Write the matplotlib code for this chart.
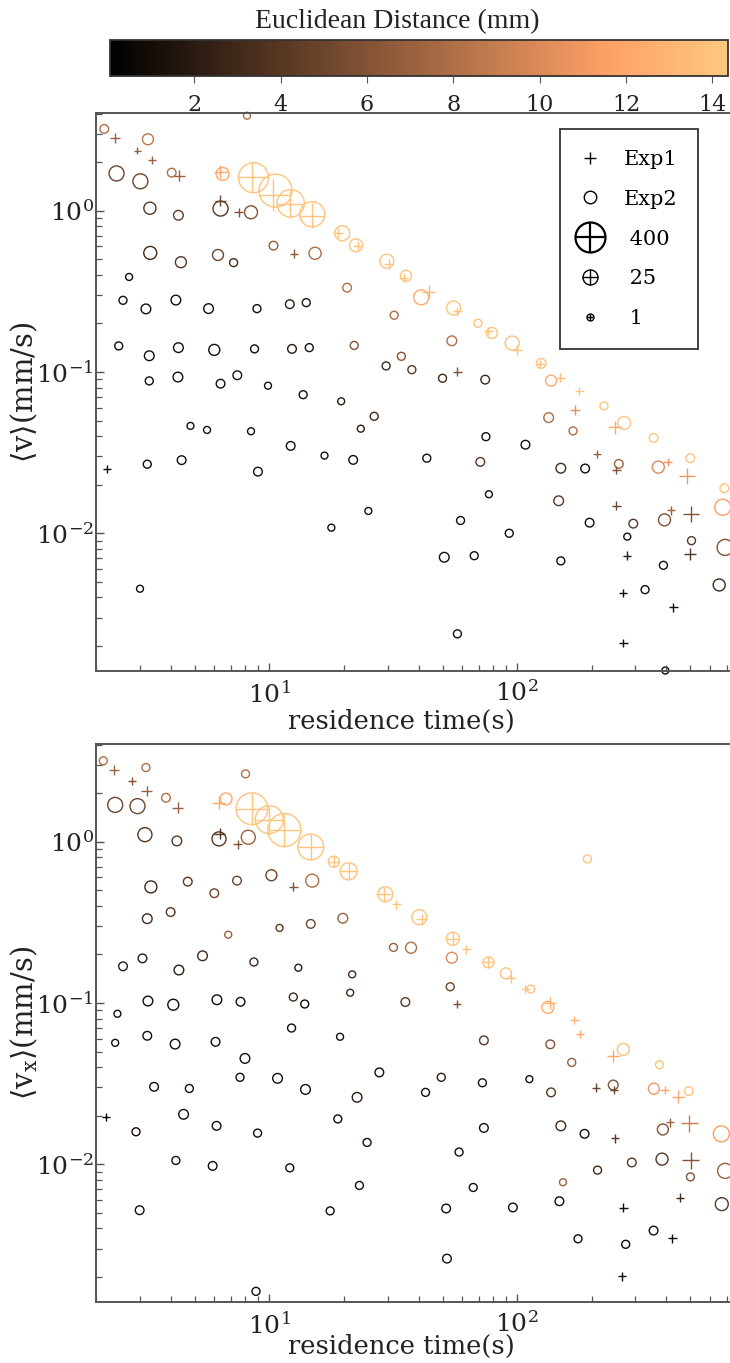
import numpy as np
import matplotlib
matplotlib.use("Agg")
import matplotlib.pyplot as plt
from matplotlib.lines import Line2D
from matplotlib.colors import Normalize
from matplotlib.cm import ScalarMappable

plt.rcParams['font.family'] = ['DejaVu Serif', 'DejaVu Sans']
plt.rcParams['mathtext.fontset'] = 'custom'
plt.rcParams['mathtext.rm'] = 'DejaVu Serif'
plt.rcParams['mathtext.it'] = 'DejaVu Serif:italic'
plt.rcParams['mathtext.default'] = 'regular'

# ---------------- data : top panel <v> ----------------
# Exp2 (circles): residence time (s), speed (mm/s), distance (mm), count
top_exp2_t = [2.16, 3.24, 2.42, 3.02, 4.04, 6.48, 8.64, 10.6, 12.2, 14.9, 19.7, 22.4, 8.13,
              3.30, 4.30, 6.36, 8.44, 10.4, 15.3, 3.31, 4.40, 6.21, 7.18, 20.6, 2.72, 2.57,
              3.18, 4.20, 5.69, 8.92, 12.1, 14.1, 22.0, 2.47, 3.28, 4.30, 6.00, 8.72, 12.35,
              14.5, 3.28, 4.28, 6.36, 7.43, 9.88, 13.7, 19.5, 4.81, 5.61, 8.44, 12.2, 16.7,
              21.8, 23.4, 3.22, 4.43, 9.0, 25.1, 17.8, 3.01, 29.8, 35.6, 41.0, 31.9, 55.4,
              69.5, 79.1, 95.5, 54.5, 34.1, 29.6, 37.6, 50.0, 74.3, 125, 137, 224, 134, 168,
              270, 355, 26.5, 74.8, 108, 71.0, 257, 371, 499, 685, 675, 150, 188, 76.9, 147,
              393, 196, 294, 92.9, 278, 505, 690, 43.2, 59.1, 50.8, 67.1, 150, 389, 653, 328,
              57.4, 396]
top_exp2_v = [3.21, 2.77, 1.70, 1.52, 1.72, 1.69, 1.60, 1.33, 1.11, 0.95, 0.724, 0.61, 3.88,
              1.035, 0.936, 1.03, 0.977, 0.607, 0.544, 0.547, 0.479, 0.531, 0.476, 0.333, 0.388,
              0.278, 0.246, 0.279, 0.247, 0.247, 0.263, 0.269, 0.146, 0.145, 0.126, 0.1415,
              0.137, 0.139, 0.139, 0.1415, 0.088, 0.093, 0.0846, 0.0954, 0.0822, 0.0723, 0.0658,
              0.0463, 0.0437, 0.0429, 0.0348, 0.0303, 0.0285, 0.0445, 0.0268, 0.0284, 0.0241,
              0.01375, 0.01083, 0.00453, 0.486, 0.395, 0.290, 0.2246, 0.249, 0.2004, 0.1745,
              0.151, 0.156, 0.125, 0.109, 0.1033, 0.0914, 0.0896, 0.113, 0.0883, 0.0616, 0.0521,
              0.0431, 0.0483, 0.039, 0.0531, 0.0397, 0.0354, 0.0277, 0.0269, 0.0257, 0.0292,
              0.019, 0.0145, 0.0253, 0.0252, 0.01746, 0.0159, 0.0121, 0.01163, 0.01147, 0.0100,
              0.00953, 0.009, 0.00817, 0.0292, 0.012, 0.0071, 0.00726, 0.00674, 0.00633,
              0.00478, 0.00447, 0.00238, 0.00141]
top_exp2_d = [8, 8.5, 5, 5, 8, 12, 14, 14, 14, 14, 14, 14, 8, 4, 4.5, 4, 6, 7, 8, 3, 4, 5, 3,
              8, 1, 1, 1, 1, 1, 1, 2, 1.5, 6, 1, 1, 1, 1, 1, 2, 1, 1, 1, 1, 1.5, 1, 1, 2, 1, 1,
              1, 1, 1, 1, 2, 1, 1, 1, 1, 1, 1, 14, 14, 12.5, 8, 14, 14, 14, 14, 8, 6, 3, 4, 3,
              3, 14, 12.5, 14, 8, 8, 14, 14, 3, 1, 1, 4, 7, 10, 14, 14, 11.5, 3, 1, 1, 4, 6, 1,
              4, 1, 1, 4, 6, 1, 1, 1, 1, 1, 1, 3, 1, 1, 1]
top_exp2_n = [2, 5, 25, 25, 2, 11, 400, 700, 250, 160, 25, 11, 1, 8, 3, 25, 11, 2, 8, 11, 5,
              5, 1.5, 2, 1, 1.5, 3, 3, 3, 1.5, 2, 1.5, 1.5, 1.5, 3, 3, 5, 1.5, 2, 1.5, 1.5, 3,
              2, 2, 1, 1.5, 1, 1, 1, 1, 2, 1, 2, 1, 1.5, 2, 2, 1, 1, 1, 17, 5, 25, 1.5, 17,
              1.5, 5, 17, 3, 1.5, 1.5, 1.5, 1.5, 2, 3, 5, 1.5, 3, 1.5, 11, 2, 1.5, 1.5, 2, 2,
              2, 7.5, 2, 2, 30, 3, 2, 1, 3, 7.5, 2, 2, 1.5, 1, 1.5, 30, 1.5, 1.5, 3, 1.5, 1.5,
              1.5, 7.5, 1.5, 1.5, 1]

# Exp1 (plus markers)
top_exp1_t = [2.38, 2.94, 3.37, 4.34, 6.35, 8.51, 10.4, 12.1, 14.9, 18.9, 22.7, 6.33, 7.52,
              12.6, 30.3, 34.9, 43.9, 57.4, 76.6, 100, 57.4, 124, 149.5, 178, 171, 247, 210,
              251, 405, 483, 251, 418, 502, 499, 277, 267, 427, 268, 2.22]
top_exp1_v = [2.81, 2.355, 2.05, 1.65, 1.745, 1.61, 1.25, 1.10, 0.927, 0.724, 0.607, 1.15,
              0.977, 0.541, 0.467, 0.384, 0.315, 0.238, 0.1796, 0.137, 0.1004, 0.112, 0.0922,
              0.0762, 0.0581, 0.0454, 0.031, 0.0247, 0.0277, 0.0228, 0.01483, 0.0139, 0.01323,
              0.00741, 0.00726, 0.00427, 0.00348, 0.00209, 0.0249]
top_exp1_d = [7, 7, 7, 7, 12, 14, 14, 14, 14, 14, 14, 5, 6, 6.5, 14, 14, 13.5, 14, 14, 14, 6,
              14, 13.5, 14, 10.5, 12, 7, 6, 11, 11, 5, 7, 6, 4, 2, 1, 1, 1, 0.5]
top_exp1_n = [3, 1, 1.5, 5, 11, 400, 500, 250, 160, 3, 3, 5, 2, 2, 3, 2, 11, 2, 2, 3, 2, 2, 3,
              2, 3, 11, 2, 2, 2, 30, 2, 2, 30, 7.5, 2, 2, 2, 2, 1.5]

# ---------------- data : bottom panel <v_x> ----------------
bot_exp2_t = [2.14, 3.18, 2.39, 2.94, 3.83, 6.69, 8.02, 8.51, 10.0, 11.5, 14.7, 18.2, 20.9,
              3.15, 4.24, 6.27, 8.23, 10.2, 14.9, 3.33, 4.69, 6.00, 7.41, 3.22, 4.00, 6.83,
              11.0, 14.7, 19.8, 2.57, 3.08, 4.32, 5.38, 8.67, 13.1, 21.6, 2.44, 3.24, 4.10,
              6.15, 7.66, 12.5, 13.9, 21.2, 2.39, 3.22, 4.17, 6.07, 12.3, 19.3, 7.98, 3.43,
              4.76, 7.62, 10.8, 14.0, 22.6, 2.90, 4.51, 6.13, 8.97, 18.9, 24.8, 4.20, 5.91,
              12.1, 23.1, 3.00, 17.6, 8.84, 29.4, 40.3, 55.0, 31.7, 37.3, 54.5, 76.6, 90.0,
              113.5, 133, 192, 268, 53.7, 35.4, 73.4, 136, 375, 166, 72.4, 112, 137, 244, 356,
              492, 73.4, 150, 187, 387, 666, 290, 384, 211, 500, 690, 27.8, 42.7, 49.4, 58.3,
              66.5, 51.7, 96.1, 153, 148, 669, 176, 274, 355, 52.1]
bot_exp2_v = [3.17, 2.88, 1.69, 1.66, 1.87, 1.84, 2.63, 1.60, 1.37, 1.18, 0.927, 0.751, 0.655,
              1.105, 1.01, 1.04, 1.065, 0.619, 0.573, 0.524, 0.565, 0.479, 0.573, 0.333, 0.366,
              0.265, 0.292, 0.309, 0.335, 0.1687, 0.189, 0.160, 0.196, 0.1794, 0.1653, 0.1504,
              0.0857, 0.1028, 0.0975, 0.1047, 0.1017, 0.1088, 0.0985, 0.1157, 0.0566, 0.0626,
              0.0556, 0.0574, 0.0699, 0.0617, 0.0453, 0.0302, 0.0295, 0.0346, 0.0341, 0.0291,
              0.026, 0.0159, 0.0204, 0.0173, 0.0156, 0.0191, 0.01365, 0.01056, 0.00977, 0.0095,
              0.00739, 0.00519, 0.00514, 0.00163, 0.472, 0.340, 0.250, 0.221, 0.220, 0.1907,
              0.1786, 0.1527, 0.122, 0.0939, 0.781, 0.0515, 0.126, 0.1013, 0.0586, 0.0554,
              0.0414, 0.0428, 0.032, 0.0337, 0.0279, 0.031, 0.0294, 0.0284, 0.0168, 0.0173,
              0.01544, 0.01643, 0.01544, 0.01026, 0.01076, 0.0092, 0.00835, 0.0091, 0.0371,
              0.0279, 0.0346, 0.0119, 0.00718, 0.00532, 0.0054, 0.00774, 0.0059, 0.00566,
              0.00345, 0.00319, 0.00388, 0.0026]
bot_exp2_d = [8, 8, 5, 5, 8, 12, 8, 14, 14, 14, 14, 14, 14, 4, 4, 4, 7, 5, 8, 3, 4, 5, 5, 3, 4,
              7, 4, 5, 7, 2, 2, 2, 3, 3, 2, 3, 1, 1, 1, 1, 1, 3, 1, 3, 1, 1, 1, 1, 1, 1, 1, 1, 1,
              1, 1, 1, 2, 1, 1, 1, 1, 1, 1, 1, 1, 1, 1, 1, 1, 1, 14, 14, 14, 7, 8, 10, 14, 14,
              14, 12.5, 14, 14, 5, 4, 4, 6, 14, 7, 1, 1, 4, 6, 11, 14, 1, 3, 1, 6, 11.5, 4, 4, 3,
              6, 7, 1, 1, 2, 1, 1, 1, 1, 7, 1, 4, 1, 1, 1, 1]
bot_exp2_n = [1.5, 1.5, 25, 25, 2, 7.5, 1.5, 550, 275, 700, 185, 5, 36, 17, 3, 17, 17, 5, 11,
              7.5, 2, 2, 2, 3, 2, 1, 1, 2, 3, 2, 2, 3, 3, 1.5, 1, 1, 1, 3, 5, 3, 2, 1.5, 1.5, 1,
              1, 2, 3, 2, 1.5, 1, 3, 2, 1.5, 1.5, 3, 3, 3, 1.5, 3, 2, 1.5, 1.5, 1.5, 1.5, 2, 1.5,
              1.5, 2, 1.5, 1.5, 25, 25, 11, 1.5, 5, 5, 5, 5, 1.5, 7.5, 1.5, 7.5, 1.5, 2, 2, 2,
              1.5, 1.5, 1.5, 1, 2, 3, 5, 2, 2, 3, 2, 5, 30, 2, 7.5, 1.5, 1.5, 25, 2, 1.5, 1.5,
              1.5, 1.5, 2, 2, 1, 2, 11, 1.5, 1.5, 2, 2]

bot_exp1_t = [2.36, 2.79, 3.21, 4.27, 6.25, 8.51, 10.0, 11.5, 14.7, 18.2, 20.9, 6.31, 7.45,
              12.5, 2.20, 28.9, 32.5, 41.3, 55.0, 62.3, 76.6, 94.6, 108, 136, 170, 179.5, 244,
              57.1, 208, 246, 393, 447, 248, 414, 495, 502, 454, 268, 423, 265]
bot_exp1_v = [2.79, 2.39, 2.06, 1.62, 1.74, 1.60, 1.37, 1.18, 0.927, 0.751, 0.655, 1.116,
              0.964, 0.526, 0.0195, 0.472, 0.409, 0.330, 0.250, 0.215, 0.1786, 0.142, 0.122,
              0.1002, 0.0783, 0.0641, 0.0469, 0.0985, 0.0298, 0.0288, 0.0288, 0.0262, 0.01445,
              0.01817, 0.0179, 0.0106, 0.0062, 0.00537, 0.00347, 0.00202]
bot_exp1_d = [7, 6, 7, 7, 12, 14, 14, 14, 14, 14, 14, 4, 6, 6, 0.5, 14, 14, 14, 14, 14, 14, 14,
              14, 13, 13, 12, 12, 6, 5, 5, 12, 12, 4, 7, 9, 6, 3, 1, 1, 1]
bot_exp1_n = [3, 1.5, 5, 5, 11, 550, 275, 700, 185, 5, 36, 5, 2, 2, 1.5, 25, 2, 5, 11, 2, 5, 3,
              2, 7.5, 2, 2, 11, 2, 2, 2, 2, 11, 2, 2, 36, 36, 2, 2, 2, 2]

legend_counts = [400, 25, 1]
cbar_ticks = [2, 4, 6, 8, 10, 12, 14]
dist_min, dist_max = 0.05, 14.36

# ---------------- styling helpers ----------------
cmap = plt.get_cmap('copper')
norm = Normalize(vmin=dist_min, vmax=dist_max)


def marker_pt(n):
    l = np.log10(np.asarray(n, dtype=float))
    return np.where(l <= np.log10(25), 5.0 + l * 4.149, 10.8 + (l - np.log10(25)) * 8.97)


W, H = 730, 1363
fig = plt.figure(figsize=(W / 100, H / 100), dpi=100)
ax1 = fig.add_axes([96 / W, 1 - 671 / H, 634 / W, 558 / H])
ax2 = fig.add_axes([96 / W, 1 - 1302 / H, 634 / W, 558 / H])
cax = fig.add_axes([110 / W, 1 - 76 / H, 618 / W, 36 / H])

spine_col = '#555555'
text_col = '#222222'
panels = [
    (ax1, top_exp1_t, top_exp1_v, top_exp1_d, top_exp1_n,
     top_exp2_t, top_exp2_v, top_exp2_d, top_exp2_n, r'$\langle$v$\rangle$(mm/s)', -0.091),
    (ax2, bot_exp1_t, bot_exp1_v, bot_exp1_d, bot_exp1_n,
     bot_exp2_t, bot_exp2_v, bot_exp2_d, bot_exp2_n, r'$\langle$v$_x\rangle$(mm/s)', -0.079),
]

for (ax, t1, v1, d1, n1, t2, v2, d2, n2, ylab, xlab_y) in panels:
    ax.set_xscale('log')
    ax.set_yscale('log')
    ax.scatter(t2, v2, s=marker_pt(n2) ** 2, marker='o', facecolors='none',
               edgecolors=cmap(norm(np.array(d2))), linewidths=1.0, clip_on=False)
    ax.scatter(t1, v1, s=marker_pt(n1) ** 2, marker='+',
               c=cmap(norm(np.array(d1))), linewidths=1.0, clip_on=False)
    ax.set_xlim(2.0, 722)
    ax.set_ylim(1.4e-3, 4.03)
    for side in ['left', 'bottom', 'top']:
        ax.spines[side].set_color(spine_col)
        ax.spines[side].set_linewidth(1.4)
    ax.spines['right'].set_visible(False)
    ax.tick_params(which='both', direction='in', colors=spine_col, labelcolor=text_col,
                   labelsize=18, top=False, right=False)
    ax.tick_params(which='major', length=6, width=1.0)
    ax.tick_params(which='minor', length=4, width=0.9)
    ax.tick_params(axis='x', pad=7)
    ax.tick_params(axis='y', pad=1.5)
    ax.set_xlabel('residence time(s)', fontsize=18.5, color=text_col)
    ax.set_ylabel(ylab, fontsize=21, color=text_col)
    ax.xaxis.set_label_coords(0.481, xlab_y)
    ax.xaxis.label.set_va('center')
    ax.yaxis.set_label_coords(-0.113, 0.5)
    ax.yaxis.label.set_va('center')

# legend on top panel
h_exp1 = Line2D([], [], ls='none', marker='+', ms=8, mew=1.0, color='black')
h_exp2 = Line2D([], [], ls='none', marker='o', ms=9, mew=1.0, mfc='none', mec='black')
size_handles = []
for c in legend_counts:
    ms = float(marker_pt(c))
    mw = 1.6 if c >= 400 else 1.0
    size_handles.append((Line2D([], [], ls='none', marker='o', ms=ms, mew=mw, mfc='none', mec='black'),
                         Line2D([], [], ls='none', marker='+', ms=ms, mew=mw, color='black')))
leg = ax1.legend([h_exp1, h_exp2] + size_handles,
                 ['Exp1', 'Exp2'] + [' ' + str(c) for c in legend_counts],
                 loc='upper left', bbox_to_anchor=((560 - 96) / 634, 1 - 16 / 558),
                 fontsize=15, frameon=True, fancybox=False, framealpha=1,
                 borderpad=1.0, labelspacing=1.0, handlelength=0.9, handletextpad=1.14,
                 borderaxespad=0)
leg.get_frame().set_edgecolor('#333333')
leg.get_frame().set_linewidth(1.3)

# colorbar
cb = fig.colorbar(ScalarMappable(norm=norm, cmap=cmap), cax=cax, orientation='horizontal')
cb.set_ticks(cbar_ticks)
cb.ax.tick_params(labelsize=16, colors=spine_col, labelcolor=text_col, length=5, pad=8)
cb.outline.set_edgecolor('#333333')
cb.outline.set_linewidth(1.3)
fig.text(397 / W, 1 - 22 / H, 'Euclidean Distance (mm)', ha='center', va='center',
         fontsize=20, family=['Liberation Serif', 'DejaVu Serif'], color=text_col)

fig.savefig('out.png', dpi=100)
